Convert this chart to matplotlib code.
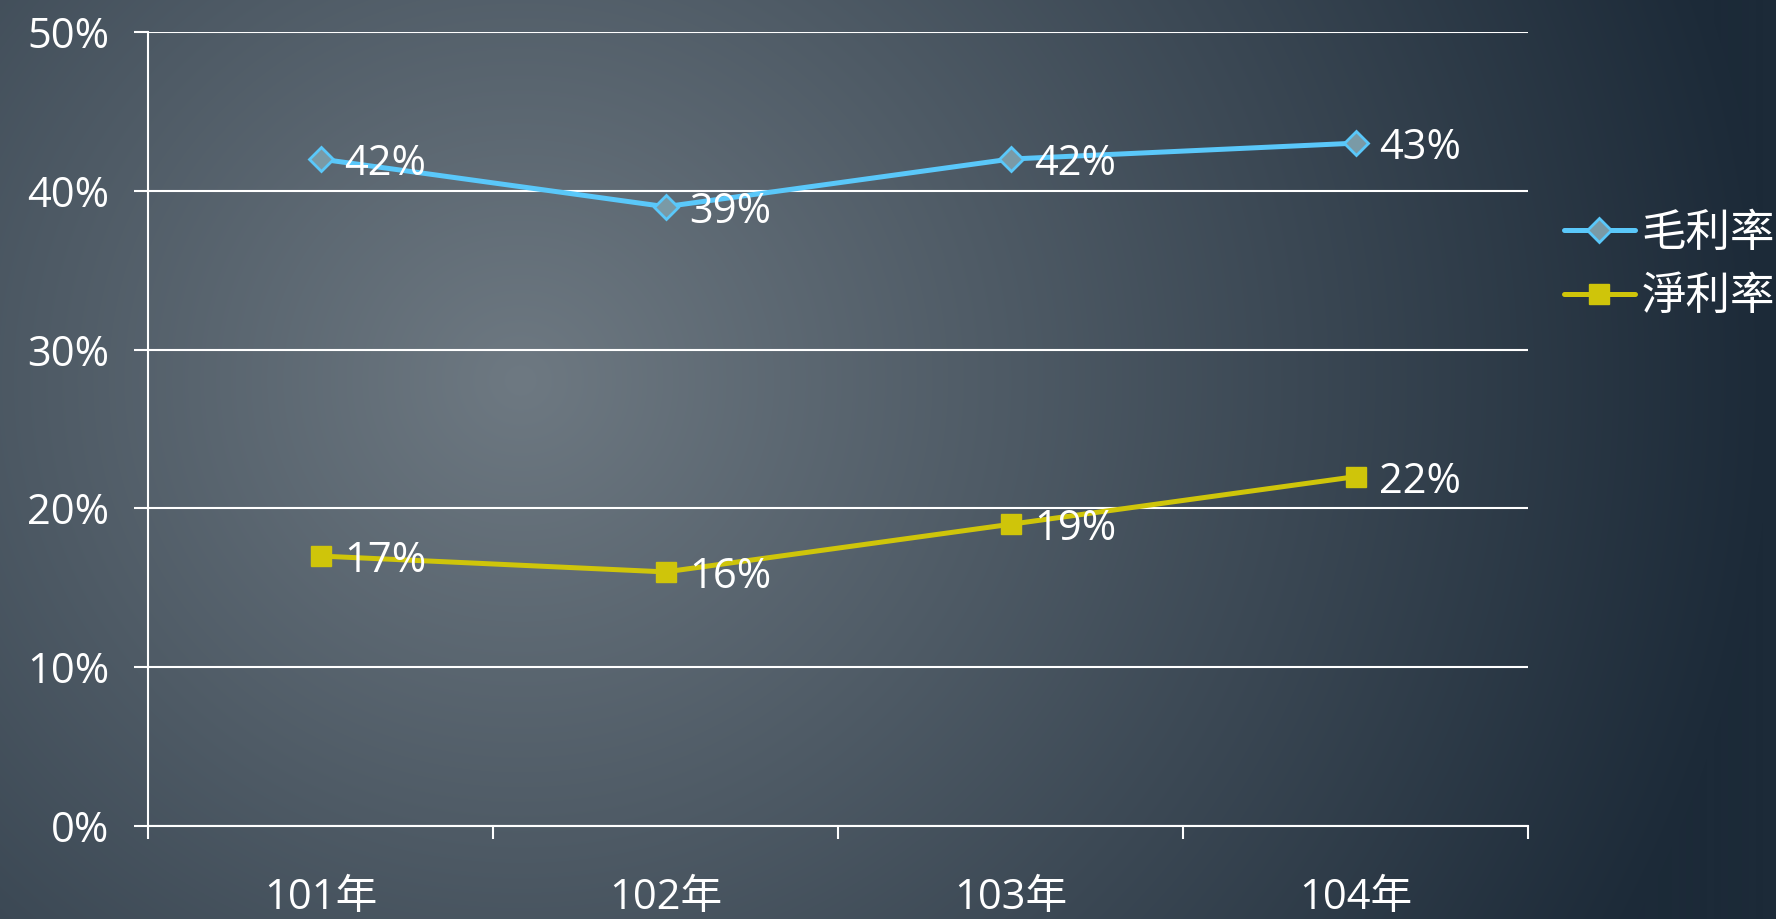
import numpy as np
import matplotlib.pyplot as plt

plt.rcParams['font.family'] = ['Open Sans', 'Noto Sans CJK TC', 'DejaVu Sans']

years = ['101年', '102年', '103年', '104年']
gross = [0.42, 0.39, 0.42, 0.43]
net = [0.17, 0.16, 0.19, 0.22]
gross_name = '毛利率'
net_name = '淨利率'

W, H = 1776, 919
fig = plt.figure(figsize=(W / 100, H / 100), dpi=100)

# radial gradient background (light near centre-left, dark navy at the edges)
bg = fig.add_axes([0, 0, 1, 1], zorder=-10)
yy, xx = np.mgrid[0:H, 0:W]
d = np.sqrt((xx - 520) ** 2 + ((yy - 380) * 1.05) ** 2)
t = np.clip(d / 1250, 0, 1)[..., None]
light = np.array([110, 121, 130]) / 255
dark = np.array([28, 42, 56]) / 255
img = light * (1 - t) + dark * t
bg.imshow(img, aspect='auto', extent=[0, W, H, 0])
bg.axis('off')

ax = fig.add_axes([148 / W, 1 - 826 / H, (1528 - 148) / W, (826 - 32) / H])
ax.set_facecolor('none')

x = np.arange(len(years))
ax.plot(x, gross, color='#5ac8fa', lw=3.6, marker='D', markersize=12,
        markerfacecolor='#7a9aa6', markeredgecolor='#5ac8fa', markeredgewidth=2,
        label=gross_name, zorder=4, solid_capstyle='round')
ax.plot(x, net, color='#cfc50a', lw=3.6, marker='s', markersize=14,
        markerfacecolor='#cfc50a', markeredgecolor='#cfc50a',
        label=net_name, zorder=4, solid_capstyle='round')

for xi, v in zip(x, gross):
    ax.annotate(f'{round(v * 100)}%', (xi, v), xytext=(17, 0), textcoords='offset points',
                ha='left', va='center_baseline', color='white', fontsize=30, zorder=5)
for xi, v in zip(x, net):
    ax.annotate(f'{round(v * 100)}%', (xi, v), xytext=(17, 0), textcoords='offset points',
                ha='left', va='center_baseline', color='white', fontsize=30, zorder=5)

ax.set_xlim(-0.5, len(years) - 0.5)
ax.set_ylim(0, 0.5)
ax.set_yticks(np.arange(0, 0.51, 0.1))
ax.set_yticklabels([f'{int(round(v * 100))}%' for v in np.arange(0, 0.51, 0.1)])
ax.set_xticks(np.arange(-0.5, len(years), 1.0))
ax.set_xticklabels([])
ax.set_xticks(x, minor=True)
ax.set_xticklabels(years, minor=True)

ax.grid(axis='y', color='white', lw=1.5)
ax.set_axisbelow(True)
for s in ['top', 'right']:
    ax.spines[s].set_visible(False)
for s in ['left', 'bottom']:
    ax.spines[s].set_color('white')
    ax.spines[s].set_linewidth(1.5)

ax.tick_params(axis='y', which='major', colors='white', length=10, width=1.5,
               labelsize=30, pad=18)
ax.tick_params(axis='x', which='major', colors='white', length=9, width=1.5)
ax.tick_params(axis='x', which='minor', length=0, labelcolor='white',
               labelsize=30, pad=37)

leg = ax.legend(loc='center left', bbox_to_anchor=(1.0, 0.705), frameon=False,
                fontsize=32, labelcolor='white', handlelength=1.6,
                handletextpad=0.15, labelspacing=0.42, borderaxespad=0.4)

fig.savefig('out.png', dpi=100)
